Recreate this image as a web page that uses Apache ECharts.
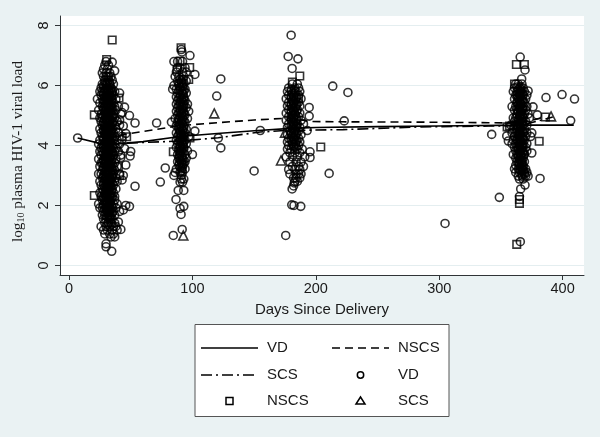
<!DOCTYPE html>
<html><head><meta charset="utf-8">
<style>html,body{margin:0;padding:0;background:#EAF2F3}#c{width:600px;height:437px}</style>
<script src="https://cdn.jsdelivr.net/npm/echarts@6/dist/echarts.min.js"></script>
</head><body><div id="c"></div>
<script>
const xTicks = [0,100,200,300,400];
const yTicks = [0,2,4,6,8];
const lineVD = [[7,4.25],[30,4.02],[60,4.13],[90,4.3],[120,4.4],[150,4.49],[180,4.57],[200,4.6],[250,4.63],[300,4.65],[365,4.68],[409,4.68]];
const lineNSCS = [[30,4.27],[60,4.47],[90,4.66],[120,4.76],[150,4.85],[180,4.92],[195,4.8],[222,4.79],[284,4.78],[340,4.76],[365,4.75],[386,4.95]];
const lineSCS = [[30,4.05],[60,4.1],[90,4.15],[121,4.26],[155,4.45],[175,4.5],[222,4.53],[284,4.62],[340,4.65],[365,4.66],[392,4.95]];
const vdOutliers = [[7,4.25],[71,4.75],[53.5,4.75],[49,5],[45,5.28],[35,6.78],[37,6.49],[41,5.75],[53.5,2.64],[49,1.97],[46,2],[44,3],[49.5,3.65],[50,3.8],[78,3.25],[74,2.78],[34.6,.47],[30,.62],[30,.72],[84.5,1],[91.7,1.2],[90.8,1.7],[93,1.97],[90,1.9],[86.7,2.2],[88.5,2.5],[93,2.5],[98,7],[123,6.22],[119.7,5.65],[121,4.25],[123,3.92],[102,4.48],[102,6.37],[155,4.5],[150,3.15],[180,7.68],[177.6,6.97],[185.5,6.89],[180.8,6.57],[213.7,5.98],[226,5.77],[194.6,5.27],[194.6,4.98],[193,4.5],[223,4.82],[210.8,3.07],[195.3,3.79],[195.3,3.6],[175.6,1],[180.5,2.02],[182.3,2],[187.8,1.97],[180.8,2.55],[182.5,2.75],[365.6,6.95],[369.5,6.52],[366.8,6.22],[372,5.82],[386.5,5.6],[399.5,5.7],[409.6,5.55],[376,5.29],[379.5,5.02],[406.5,4.83],[342.5,4.37],[354.7,4.32],[356,4.15],[375,3.75],[381.7,2.9],[369.5,2.68],[348.7,2.27],[304.7,1.4],[365.7,.79],[365,2.3],[366,2.55],[43,5.1],[41,4.85],[44,4.65],[46,4.4],[43,4.2],[45,3.9],[42,3.6],[46,3.35],[43,2.85],[44,1.85],[42,1.2],[40,1.45]];
const vd30Rows = [[6.8,[30]],[6.68,[29,32]],[6.55,[28,31]],[6.42,[27,30,33]],[6.3,[28,31,34]],[6.18,[29,32,35]],[6.05,[27,30,33,36]],[5.92,[26,28,31,34]],[5.8,[25,27,29,32,35,37]],[5.68,[26,28,31,33,36]],[5.55,[23,27,30,32,35,38]],[5.42,[25,28,31,33,36]],[5.3,[27,29,32,34,37,40]],[5.18,[24,28,30,33,35,38]],[5.05,[26,29,31,34,36,42]],[4.92,[25,27,30,32,35,37]],[4.8,[26,28,31,33,36,39]],[4.68,[27,29,32,34,37,41]],[4.55,[25,28,30,33,35,38]],[4.42,[26,29,31,34,36,40]],[4.3,[27,30,32,35,37,43]],[4.18,[25,28,31,33,36,39]],[4.05,[24,27,29,32,34,37,41]],[3.92,[26,28,31,33,36,38]],[3.8,[25,27,30,32,35,37,40]],[3.68,[26,29,31,34,36,42]],[3.55,[24,28,30,33,35,38]],[3.42,[26,27,29,32,34,37]],[3.3,[25,28,31,33,36,39]],[3.18,[27,30,32,35,37]],[3.05,[24,26,29,31,34,36,41]],[2.92,[27,28,30,33,35,38]],[2.8,[25,29,32,34,37,39]],[2.68,[26,28,31,33,36]],[2.55,[27,30,32,35,38]],[2.42,[25,29,31,34,36]],[2.3,[26,28,30,33,35,37]],[2.18,[27,29,32,34,37]],[2.05,[24,28,31,33,36,39]],[1.92,[25,27,30,32,35,38]],[1.8,[28,31,33,36,41]],[1.68,[27,29,32,34,37]],[1.55,[28,30,33,35]],[1.42,[29,32,34,37]],[1.3,[26,30,33,36,38]],[1.18,[28,31,35,39]],[1.05,[29,33,36]],[.95,[34,37]]];
const vd30Core = [[6.3,[30,32]],[6.1,[29,31,33]],[6,[28,30.5,33]],[5.87,[29,32,35]],[5.75,[28,30.5,33,34.5]],[5.62,[29,31,34]],[5.5,[28,29.5,32,34]],[5.37,[29.5,31.5,34.5]],[5.25,[28,30.5,33,35]],[5.12,[29,31.5,34]],[5,[28,30,32.5,35]],[4.87,[29,31,33.5]],[4.75,[28,30,32.5,35]],[4.62,[29,31.5,34]],[4.5,[28,30,32,34.5]],[4.37,[29,31,33,35]],[4.25,[28,30.5,33,35]],[4.12,[29,31,34]],[4,[28,30.5,32.5,35]],[3.87,[29,31.5,34.5]],[3.75,[28,30,32.5,35]],[3.62,[29,31,33.5]],[3.5,[28,30,32,34.5]],[3.37,[29,31,33,35]],[3.25,[28,30,32.5,34.5]],[3.12,[29,31.5,33.5]],[3,[28,30.5,32.5,35]],[2.87,[29,31.5,34]],[2.75,[28,30.5,33,35]],[2.62,[29,31.5,34]],[2.5,[28,30,32.5,34.5]],[2.37,[29,31,33.5]],[2.25,[28,30.5,33,35]],[2.12,[29,31,33.5]],[2,[28,30,32.5,34.5]],[1.87,[29,31.5,34]],[1.75,[30,32.5,35]],[1.62,[30.5,33]],[1.37,[31,34.5]]];
const vd30Fill = [[5.85,[30.5,33.5]],[5.6,[30.5,33]],[5.35,[30.5,33]],[5.1,[30.5,33]],[4.85,[30.5,33]],[4.6,[30.5,33]],[4.35,[30.5,33]],[4.1,[30.5,33]],[3.85,[30.5,33]],[3.6,[30.5,33]],[3.35,[30.5,33]],[3.1,[30.5,33]],[2.85,[30.5,33]],[2.6,[30.5,33]],[2.35,[30.5,33]],[2.1,[30.5,33]],[1.85,[30.5,33]],[1.6,[31.5,34]]];
const vd90Rows = [[7.2,[91]],[7.12,[91.5]],[6.8,[85,92,88]],[6.6,[90,94,88]],[6.45,[87,92,95]],[6.3,[86,89,93]],[6.15,[88,91,95]],[6,[85,89,92]],[5.88,[84,87,90,94]],[5.75,[88,92,95]],[5.62,[87,90,93]],[5.5,[88,91,94]],[5.38,[87,90,93,96]],[5.26,[88,92,95]],[5.14,[87,90,93,97]],[5.02,[88,91,94]],[4.9,[86,89,92,96]],[4.78,[83,88,91,94]],[4.66,[87,90,93]],[4.54,[89,92,95]],[4.42,[87,90,94]],[4.3,[88,91,93,97]],[4.18,[87,90,94]],[4.06,[88,92,95]],[3.94,[87,90,93]],[3.82,[89,91,96]],[3.7,[88,90,94,100]],[3.58,[89,92,95]],[3.46,[88,91,94]],[3.34,[89,92]],[3.22,[87,91,94]],[3.1,[86,90,92]],[3,[85,91]],[2.88,[91,93]],[2.78,[90,92]]];
const vd90Core = [[6.2,[90,92.5]],[6.08,[89,91.5,93]],[5.95,[90,92.5]],[5.82,[89,91.5,93]],[5.7,[90,92.5]],[5.56,[89,91.5,93]],[5.44,[90,92.5]],[5.32,[89,91.5,93]],[5.2,[90,92]],[5.08,[89,91.5,93]],[4.96,[90,92.5]],[4.84,[89,91.5,93]],[4.72,[89.5,92]],[4.6,[89,91,93]],[4.48,[90,92.5]],[4.36,[89,91,93]],[4.24,[90,92.5]],[4.12,[89,91,93]],[4,[90,92.5]],[3.88,[89,91.5,93]],[3.76,[90,92.5]],[3.64,[89.5,91.5]],[3.52,[90,92.5]],[3.4,[89.5,91.5,93]],[3.28,[90,92]],[3.16,[91.5]]];
const vd180Rows = [[6.05,[181,185]],[5.92,[178,183,186]],[5.8,[177,180,184,187]],[5.68,[178,182,186]],[5.56,[176,180,184,188]],[5.44,[178,182,186]],[5.32,[177,180,184,187]],[5.2,[178,182,185]],[5.08,[176,180,183,187]],[4.96,[178,182,186]],[4.84,[176,180,184,188]],[4.72,[178,182,185,190]],[4.6,[177,181,184,187]],[4.48,[179,183,186]],[4.36,[177,180,184,188]],[4.24,[178,182,186]],[4.12,[177,181,184,187]],[4,[178,182,186]],[3.88,[177,180,185,189]],[3.76,[179,183,187]],[3.62,[176,181,185,191]],[3.45,[179,184,188]],[3.3,[181,186,190]],[3.2,[178,183,187]],[3.05,[179,184,188,186]],[2.92,[184,187,182]],[2.8,[185,183]],[2.65,[182]]];
const vd180Core = [[5.86,[180,182.5]],[5.74,[181,183]],[5.62,[180,182,184.5]],[5.5,[181,183.5]],[5.38,[180,182,184.5]],[5.26,[181,183.5]],[5.14,[180,182,184.5]],[5.02,[181,183.5]],[4.9,[180,182,184.5]],[4.78,[181,183.5]],[4.66,[180,182,184.5]],[4.54,[181,183.5]],[4.42,[180,182,184.5]],[4.3,[181,183.5]],[4.18,[180,182.5,184.5]],[4.06,[181,183.5]],[3.94,[182,184]]];
const vd365Rows = [[6.05,[362,364,367]],[5.92,[361,365,368]],[5.8,[360,363,366,369]],[5.68,[362,365,368,371]],[5.55,[361,364,367,370]],[5.42,[363,366,369]],[5.3,[359,362,365,368,371]],[5.18,[361,364,367,370]],[5.05,[363,366,369,372]],[4.92,[360,362,365,368,373]],[4.8,[361,364,367,370]],[4.68,[358,362,365,368,371]],[4.55,[360,363,366,369]],[4.42,[359,362,365,368,371,375]],[4.3,[361,364,367,370,374]],[4.18,[360,363,366,369]],[4.06,[359,362,365,368,371]],[3.94,[361,364,367,370]],[3.82,[362,365,368,371]],[3.7,[360,363,366,369]],[3.58,[362,365,368]],[3.46,[363,366,369]],[3.34,[362,365,368]],[3.22,[361,364,367,370]],[3.1,[362,365,369,371]],[2.98,[364,367,370,372]],[2.88,[365,368]]];
const vd365Core = [[5.86,[364,366.5]],[5.74,[364.5,367]],[5.62,[363.5,366]],[5.5,[365,367.5]],[5.36,[364,366.5]],[5.24,[365,367.5]],[5.12,[364,366]],[5,[365,367.5]],[4.86,[364,366.5]],[4.74,[365,367]],[4.62,[364,366.5]],[4.48,[364.5,367]],[4.36,[364,366]],[4.24,[365,367.5]],[4.12,[364,366.5]],[4,[365,367]],[3.88,[364,366.5]],[3.76,[365,367.5]],[3.64,[364,366.5]],[3.52,[365,367]],[3.4,[364.5,367]],[3.28,[366,368]],[3.16,[366,368.5]],[3.04,[367,369]]];
const vd365Fill = [[5.95,[363,366]],[5.7,[363,365.5,368]],[5.45,[363,365.5,368]],[5.2,[363,365.5,368]],[4.95,[363,365.5,368]],[4.7,[363,365.5,368]],[4.45,[363,365.5,368]],[4.2,[363,365.5,368]],[3.95,[363,365.5,368]],[3.7,[364,366.5,368.5]],[3.45,[364.5,367]],[3.2,[365,367.5]]];
const squares = [[35,7.52],[30.5,6.87],[20.5,5.02],[20.5,2.33],[40.5,5.58],[40,3.3],[41,3],[46.7,4.29],[90.8,7.26],[90,6.82],[87.5,6.52],[97.8,6.6],[97,6.2],[84.5,3.79],[98,4.25],[187,6.32],[181,6.12],[186,5.6],[204,3.95],[362.5,6.7],[369,6.7],[361,6.05],[381,4.14],[362.8,.7],[365,2.07],[365,2.2],[386,4.95],[355,4.62],[357,4.65]];
const triangles = [[117.7,5.07],[92.6,1],[171.8,3.5],[175,4.43],[390.6,4.97]];
const legendLabels = [['VD','NSCS'],['SCS','VD'],['NSCS','SCS']];

const expand = rows => rows.flatMap(r => r[1].map(d => [d, r[0]]));
const vd = [...vdOutliers, ...[vd30Rows,vd30Core,vd30Fill,vd90Rows,vd90Core,vd180Rows,vd180Core,vd365Rows,vd365Core,vd365Fill].flatMap(expand)];

const axisCol = '#2f3437', txt = '#1a1a1a', bg = '#EAF2F3';
const mk = (name, data, symbol, size) => ({name, type:'scatter', data, symbol, symbolSize:size, z:3, silent:true, large:false, progressive:0,
  itemStyle:{color:'rgba(0,0,0,0)', borderColor:'#000', borderWidth:1.6}});
const ln = (name, data, type) => ({name, type:'line', data, showSymbol:false, symbol:'none', z:4, silent:true,
  lineStyle:{color:'#000', width:1.6, type}});

const dashA=[8,5], dashB=[11,4,2,4];
const legLine=(x,y,t)=>({type:'line',shape:{x1:x,y1:y,x2:x+57,y2:y},style:{stroke:'#000',lineWidth:1.4,lineDash:t}});
const legText=(x,y,s)=>({type:'text',x,y,style:{text:s,font:'15px "Liberation Sans"',fill:txt,textVerticalAlign:'middle'}});
const rows=[348,375,401], c1=267, c2=398;
const mkStyle={fill:'none',stroke:'#000',lineWidth:1.5};
const graphic=[
 {type:'rect',shape:{x:195,y:324.5,width:254,height:92},style:{fill:'#fff',stroke:'#555',lineWidth:1}},
 legLine(201,rows[0],null),legLine(332,rows[0],dashA),legLine(201,rows[1],dashB),
 {type:'circle',shape:{cx:360.5,cy:rows[1],r:3.2},style:mkStyle},
 {type:'rect',shape:{x:226,y:rows[2]-3.5,width:7,height:7},style:mkStyle},
 {type:'polygon',shape:{points:[[360.5,rows[2]-4],[356,rows[2]+3],[365,rows[2]+3]]},style:mkStyle},
 legText(c1,rows[0],legendLabels[0][0]),legText(c2,rows[0],legendLabels[0][1]),
 legText(c1,rows[1],legendLabels[1][0]),legText(c2,rows[1],legendLabels[1][1]),
 legText(c1,rows[2],legendLabels[2][0]),legText(c2,rows[2],legendLabels[2][1])
];

const chart = echarts.init(document.getElementById('c'),null,{renderer:'canvas'});
chart.setOption({
 animation:false, backgroundColor:bg,
 grid:{left:60,top:16,width:524,height:259,show:true,backgroundColor:'#fff',borderWidth:0},
 xAxis:{type:'value',min:-7.3,max:417.3,name:'Days Since Delivery',nameLocation:'middle',nameGap:27,
  nameTextStyle:{fontFamily:'Liberation Sans',fontSize:15,color:txt},
  axisLine:{show:true,onZero:false,lineStyle:{color:axisCol,width:1}},
  axisTick:{show:true,length:5,customValues:xTicks,lineStyle:{color:axisCol}},
  axisLabel:{customValues:xTicks,fontFamily:'Liberation Sans',fontSize:14.5,color:txt,margin:6,hideOverlap:false},
  splitLine:{show:false}},
 yAxis:{type:'value',min:-0.32,max:8.32,name:'log{s|10} plasma HIV-1 viral load',nameLocation:'middle',nameGap:34,nameRotate:90,
  nameTextStyle:{fontFamily:'Liberation Serif',fontSize:15.3,color:txt,padding:[0,12,0,0],rich:{s:{fontFamily:'Liberation Serif',fontSize:10,color:txt,verticalAlign:'bottom',padding:[6,0,0,0]}}},
  axisLine:{show:true,onZero:false,lineStyle:{color:axisCol,width:1}},
  axisTick:{show:true,length:5,customValues:yTicks,lineStyle:{color:axisCol}},
  axisLabel:{customValues:yTicks,rotate:90,fontFamily:'Liberation Sans',fontSize:14.5,color:txt,margin:9,hideOverlap:false},
  splitLine:{show:true,lineStyle:{color:'#E4EEF0',width:1.2}}},
 series:[
  mk('VD',vd,'circle',8), mk('NSCS',squares,'rect',7.5), mk('SCS',triangles,'triangle',9),
  ln('VD',lineVD,'solid'), ln('NSCS',lineNSCS,dashA), ln('SCS',lineSCS,dashB)
 ],
 graphic
});
</script></body></html>
